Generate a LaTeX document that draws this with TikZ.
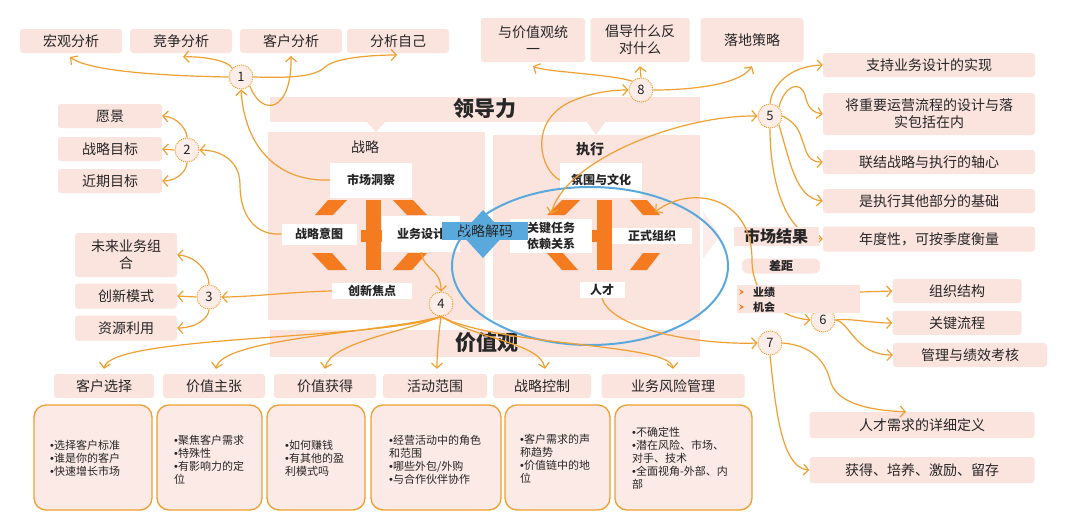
\documentclass[tikz,border=0pt]{standalone}
\usepackage{fontspec}
\setmainfont{Noto Sans CJK SC}
\newfontfamily\bulf{Liberation Sans}
\newcommand{\mybul}{{\bulf •}}
\usetikzlibrary{arrows.meta}
\definecolor{pinkc}{HTML}{FBE3DE}
\definecolor{pinkl}{HTML}{FCEDEA}
\definecolor{orc}{HTML}{F0A030}
\definecolor{chev}{HTML}{F47B20}
\definecolor{bluec}{HTML}{5AA9DD}
\definecolor{cfill}{HTML}{FDEDE8}
\definecolor{txt}{HTML}{262626}
\tikzset{
 arr/.style={draw=orc, line width=1.2pt, -{Straight Barb[length=5pt,width=11pt]}},
 darr/.style={draw=orc, line width=1.2pt, {Straight Barb[length=5pt,width=11pt]}-{Straight Barb[length=5pt,width=11pt]}},
 pbox/.style={fill=pinkc, rounded corners=3pt, text=txt, inner sep=0pt, font=\fontsize{14}{17}\selectfont, align=center},
 wbox/.style={fill=white, text=txt, inner sep=0pt, font=\fontsize{12}{15}\selectfont\bfseries, align=center},
 num/.style={circle, draw=orc, densely dotted, line width=1pt, fill=cfill, minimum size=24pt, inner sep=0pt, text=txt, font=\fontsize{13}{13}\selectfont},
 bbox/.style={draw=orc, line width=1.3pt, fill=pinkc!75!white, rounded corners=12pt, inner sep=0pt, minimum height=105pt},
 btxt/.style={anchor=west, align=left, font=\fontsize{11}{13}\selectfont, text=txt, inner sep=0pt},
 lbl/.style={text=txt, inner sep=0pt},
}
\begin{document}
\begin{tikzpicture}[x=1pt,y=-1pt]
\useasboundingbox (0,0) rectangle (1080,520);
\fill[white] (0,0) rectangle (1080,520);

% big pink areas
\fill[pinkc] (270,97) rectangle (700,122);
\fill[pinkc] (366,121) -- (386,121) -- (376,132) -- cycle;
\fill[pinkc] (586,121) -- (606,121) -- (596,135) -- cycle;
\fill[pinkc] (268,132) rectangle (485,320);
\fill[pinkc] (493,135) rectangle (700,320);
\fill[pinkl] (703,211) -- (720,235) -- (703,259) -- cycle;
\fill[pinkc] (270,330) rectangle (700,357);
\node[lbl, font=\fontsize{21}{21}\selectfont\bfseries] (ldl) at (485,109) {领导力};
\node[lbl, font=\fontsize{21}{21}\selectfont\bfseries] (jzg) at (487,343) {价值观};

% strategy chevrons
\fill[chev] (366,200) rectangle (381,270);
\fill[chev] (361,230) rectangle (386,242);
\fill[chev] (328,200) -- (347,200) -- (333,215) -- (315,215) -- cycle;
\fill[chev] (393,200) -- (413,200) -- (427,215) -- (407,215) -- cycle;
\fill[chev] (312,253) -- (332,253) -- (347,270) -- (328,270) -- cycle;
\fill[chev] (408,253) -- (427,253) -- (412,270) -- (393,270) -- cycle;
% execution chevrons
\fill[chev] (597,200) rectangle (612,270);
\fill[chev] (592,230) rectangle (616,242);
\fill[chev] (562,200) -- (580,200) -- (565,215) -- (547,215) -- cycle;
\fill[chev] (630,200) -- (647,200) -- (660,215) -- (643,215) -- cycle;
\fill[chev] (547,253) -- (563,253) -- (578,270) -- (562,270) -- cycle;
\fill[chev] (643,253) -- (660,253) -- (647,270) -- (630,270) -- cycle;

% strategy texts
\node[lbl, font=\fontsize{14}{14}\selectfont] (zl) at (365,147) {战略};
\node[wbox, minimum width=82pt, minimum height=35pt] (scdc) at (371,180) {市场洞察};
\node[wbox, minimum width=75pt, minimum height=21pt] (zlyt) at (319,234) {战略意图};
\node[wbox, minimum width=78pt, minimum height=36pt] (ywsj) at (421,234) {业务设计};
\node[wbox, minimum width=80pt, minimum height=16pt] (cxjd) at (372,291) {创新焦点};
% execution texts
\node[lbl, font=\fontsize{14}{14}\selectfont\bfseries] (zx) at (590,149) {执行};
\node[wbox, minimum width=82pt, minimum height=35pt] (fwwh) at (601,180) {氛围与文化};
\node[wbox, minimum width=82pt, minimum height=34pt, font=\fontsize{12}{16}\selectfont\bfseries] (gjrw) at (551,236) {关键任务\\依赖关系};
\node[wbox, minimum width=80pt, minimum height=16pt] (zszz) at (652,236) {正式组织};
\node[wbox, minimum width=45pt, minimum height=16pt] (rc) at (602,290) {人才};

% strategy decoding
\fill[bluec] (461,234) -- (483,210) -- (505,234) -- (483,258) -- cycle;
\node[fill=bluec, minimum width=86pt, minimum height=18pt, inner sep=0pt, text=txt, font=\fontsize{14}{14}\selectfont] (zljm) at (485,231) {战略解码};

% ellipse
\draw[bluec, line width=2pt] (590,266) ellipse [x radius=138, y radius=79];

% top-left group 1
\node[pbox, minimum width=102pt, minimum height=24pt] (hg) at (71,41) {宏观分析};
\node[pbox, minimum width=102pt, minimum height=24pt] (jz) at (181,41) {竞争分析};
\node[pbox, minimum width=102pt, minimum height=24pt] (kh) at (291,41) {客户分析};
\node[pbox, minimum width=102pt, minimum height=24pt] (zj) at (398,41) {分析自己};
\node[num] (c1) at (241,77) {1};
\draw[arr] (c1.west) .. controls (170,76) and (90,72) .. (70,57);
\draw[arr] (c1.north west) .. controls (228,60) and (200,56) .. (183,57);
\draw[arr] (c1.south east) .. controls (262,118) and (292,112) .. (291,56);
\draw[arr] (c1.east) .. controls (290,78) and (315,77) .. (325,67) .. controls (335,58) and (370,55) .. (397,55);
\draw[arr] (scdc.west) .. controls (280,182) and (245,150) .. (c1.south);

% group 2
\node[pbox, minimum width=104pt, minimum height=24pt] (yj) at (110,116) {愿景};
\node[pbox, minimum width=104pt, minimum height=24pt] (zlmb) at (110,149) {战略目标};
\node[pbox, minimum width=104pt, minimum height=24pt] (jqmb) at (110,181) {近期目标};
\node[num] (c2) at (187,150) {2};
\draw[arr] (c2.north) .. controls (187,130) and (178,117) .. (yj.east);
\draw[arr] (c2.west) -- (zlmb.east);
\draw[arr] (c2.south) .. controls (187,170) and (178,181) .. (jqmb.east);
\draw[arr] (zlyt.west) .. controls (255,236) and (240,215) .. (240,185) .. controls (240,160) and (220,150) .. (c2.east);

% group 3
\node[pbox, minimum width=102pt, minimum height=44pt] (wl) at (126,255) {未来业务组\\合};
\node[pbox, minimum width=102pt, minimum height=25pt] (cx) at (126,296) {创新模式};
\node[pbox, minimum width=102pt, minimum height=25pt] (zy) at (126,328) {资源利用};
\node[num] (c3) at (209,297) {3};
\draw[arr] (c3.north) .. controls (209,272) and (196,256) .. (wl.east);
\draw[arr] (c3.west) -- (cx.east);
\draw[arr] (c3.south) .. controls (209,318) and (196,328) .. (zy.east);
\draw[arr] (cxjd.west) .. controls (290,292) and (250,297) .. (c3.east);

% group 4
\node[num] (c4) at (441,304) {4};
\draw[arr] (ywsj.south) .. controls (425,272) and (441,268) .. (c4.north);
\node[pbox, minimum width=100pt, minimum height=24pt] (v1) at (104,386) {客户选择};
\node[pbox, minimum width=102pt, minimum height=24pt] (v2) at (214,386) {价值主张};
\node[pbox, minimum width=102pt, minimum height=24pt] (v3) at (325,386) {价值获得};
\node[pbox, minimum width=104pt, minimum height=24pt] (v4) at (435,386) {活动范围};
\node[pbox, minimum width=98pt, minimum height=24pt] (v5) at (542,386) {战略控制};
\node[pbox, minimum width=143pt, minimum height=24pt] (v6) at (673,386) {业务风险管理};
\draw[arr] (c4.south) .. controls (380,340) and (110,335) .. ([yshift=5pt]v1.north);
\draw[arr] (c4.south) .. controls (380,333) and (222,338) .. ([yshift=5pt,xshift=2pt]v2.north);
\draw[arr] (c4.south) .. controls (400,333) and (330,343) .. ([yshift=5pt]v3.north);
\draw[arr] (c4.south) .. controls (438,340) and (437,355) .. ([yshift=5pt,xshift=2pt]v4.north);
\draw[arr] (c4.south) .. controls (480,340) and (540,343) .. ([yshift=5pt,xshift=3pt]v5.north);
\draw[arr] (c4.south) .. controls (500,347) and (670,343) .. ([yshift=5pt]v6.north);

% bullet boxes
\node[bbox, minimum width=118pt] (b1) at (93,457.5) {};
\node[bbox, minimum width=105pt] (b2) at (209.5,457.5) {};
\node[bbox, minimum width=98pt] (b3) at (316,457.5) {};
\node[bbox, minimum width=130pt] (b4) at (436,457.5) {};
\node[bbox, minimum width=105pt] (b5) at (557.5,457.5) {};
\node[bbox, minimum width=137pt] (b6) at (683.5,457.5) {};
\node[btxt] (t1) at (50,458) {\mybul 选择客户标准\\\mybul 谁是你的客户\\\mybul 快速增长市场};
\node[btxt] (t2) at (174,460) {\mybul 聚焦客户需求\\\mybul 特殊性\\\mybul 有影响力的定\\位};
\node[btxt] (t3) at (285,458) {\mybul 如何赚钱\\\mybul 有其他的盈\\利模式吗};
\node[btxt] (t4) at (389,460) {\mybul 经营活动中的角色\\和范围\\\mybul 哪些外包/外购\\\mybul 与合作伙伴协作};
\node[btxt] (t5) at (520,459) {\mybul 客户需求的声\\称趋势\\\mybul 价值链中的地\\位};
\node[btxt] (t6) at (632,458) {\mybul 不确定性\\\mybul 潜在风险、市场、\\对手、技术\\\mybul 全面视角-外部、内\\部};

% group 8
\node[pbox, minimum width=104pt, minimum height=44pt] (t81) at (533,40) {与价值观统\\一};
\node[pbox, minimum width=99pt, minimum height=44pt] (t82) at (640,40) {倡导什么反\\对什么};
\node[pbox, minimum width=103pt, minimum height=44pt] (t83) at (752,40) {落地策略};
\node[num] (c8) at (641,90) {8};
\draw[arr] (c8.north west) .. controls (610,74) and (545,72) .. ([yshift=-4pt]t81.south);
\draw[arr] (c8.north) -- ([yshift=-4pt]t82.south);
\draw[arr] (c8.east) .. controls (690,90) and (740,85) .. ([yshift=-4pt]t83.south);
\draw[arr] (fwwh.west) .. controls (540,170) and (528,122) .. (570,102) .. controls (590,93) and (610,90) .. (c8.west);

% group 5
\node[pbox, minimum width=212pt, minimum height=24pt] (r1) at (929,65) {支持业务设计的实现};
\node[pbox, minimum width=212pt, minimum height=42pt] (r2) at (929,114) {将重要运营流程的设计与落\\实包括在内};
\node[pbox, minimum width=212pt, minimum height=24pt] (r3) at (929,162) {联结战略与执行的轴心};
\node[pbox, minimum width=212pt, minimum height=24pt] (r4) at (929,201) {是执行其他部分的基础};
\node[pbox, minimum width=212pt, minimum height=25pt] (r5) at (929,239) {年度性，可按季度衡量};
\node[num] (c5) at (770,116) {5};
\draw[arr] (c5.north) .. controls (772,85) and (790,66) .. (r1.west);
\draw[arr] (c5.north east) .. controls (785,85) and (800,80) .. (805,95) .. controls (808,108) and (812,112) .. (r2.west);
\draw[arr] (c5.east) .. controls (800,125) and (800,135) .. (805,148) .. controls (808,158) and (812,162) .. (r3.west);
\draw[arr] (c5.south east) .. controls (790,160) and (795,198) .. (r4.west);
\draw[arr] (c5.south) .. controls (770,190) and (790,238) .. (r5.west);
\coordinate (gjrwt) at (551,214);
\draw[darr] (gjrwt) .. controls (565,160) and (680,115) .. (c5.west);

% market results
\node[pbox, rounded corners=0pt, minimum width=85pt, minimum height=19pt, font=\fontsize{16}{16}\selectfont\bfseries] (scjg) at (776,236) {市场结果};
\node[pbox, rounded corners=6pt, minimum width=78pt, minimum height=15pt, font=\fontsize{12}{12}\selectfont\bfseries] (cj) at (781,266) {差距};
\node[num] (c6) at (823,320) {6};
\coordinate (zszzt) at (655,212);
\draw[darr] (zszzt) .. controls (690,185) and (752,195) .. (752,260) .. controls (752,300) and (785,318) .. (c6.west);
\node[pbox, rounded corners=0pt, minimum width=123pt, minimum height=28pt] (yjjh) at (798.5,299) {};
\fill[chev] (739,289) -- (744,292) -- (739,295) -- (741,292) -- cycle;
\fill[chev] (739,304) -- (744,307) -- (739,310) -- (741,307) -- cycle;
\node[lbl, anchor=west, font=\fontsize{11}{11}\selectfont\bfseries] (yjt) at (753,292) {业绩};
\node[lbl, anchor=west, font=\fontsize{11}{11}\selectfont\bfseries] (jht) at (753,307) {机会};
\node[pbox, minimum width=129pt, minimum height=24pt] (zzjg) at (957,291) {组织结构};
\node[pbox, minimum width=129pt, minimum height=24pt] (gjlc) at (957,323) {关键流程};
\node[pbox, minimum width=154pt, minimum height=24pt] (glkh) at (970,355) {管理与绩效考核};
\draw[arr] (860,292) -- (zzjg.west);
\draw[arr] (c6.east) .. controls (850,318) and (870,323) .. (gjlc.west);
\draw[arr] (c6.east) .. controls (850,322) and (855,355) .. (glkh.west);

% group 7
\node[pbox, minimum width=225pt, minimum height=26pt] (rqxq) at (922,425) {人才需求的详细定义};
\node[pbox, minimum width=225pt, minimum height=26pt] (hdpy) at (922,470) {获得、培养、激励、留存};
\node[num] (c7) at (770,343) {7};
\draw[arr] (rc.south) .. controls (612,330) and (700,345) .. (c7.west);
\draw[arr] (c7.east) .. controls (810,345) and (825,360) .. (830,380) .. controls (835,400) and (860,410) .. ([xshift=-16pt]rqxq.north);
\draw[arr] (c7.south) .. controls (775,400) and (780,468) .. (hdpy.west);
\end{tikzpicture}
\end{document}
